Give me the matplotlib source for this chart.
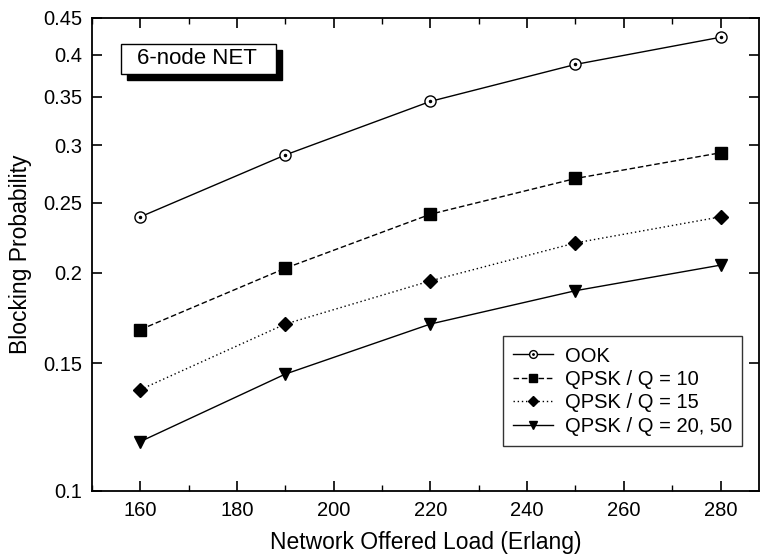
import matplotlib
matplotlib.use("Agg")
import matplotlib.pyplot as plt
from matplotlib.ticker import FixedLocator, NullLocator, MultipleLocator
from matplotlib.legend_handler import HandlerTuple
from matplotlib.patches import Rectangle

plt.rcParams['font.family'] = ['Liberation Sans', 'DejaVu Sans']

# data
load = [160, 190, 220, 250, 280]
ook = [0.239, 0.291, 0.345, 0.388, 0.423]
qpsk10 = [0.167, 0.203, 0.241, 0.270, 0.293]
qpsk15 = [0.138, 0.170, 0.195, 0.220, 0.239]
qpsk20 = [0.117, 0.145, 0.170, 0.189, 0.205]

yticks = [0.1, 0.15, 0.2, 0.25, 0.3, 0.35, 0.4, 0.45]
ytick_labels = ["0.1", "0.15", "0.2", "0.25", "0.3", "0.35", "0.4", "0.45"]

fig = plt.figure(figsize=(7.6, 5.56), dpi=100)
ax = fig.add_axes([0.121, 0.117, 0.878, 0.851])

l1, = ax.plot(load, ook, color='black', lw=1, ls='-', marker='o',
              mfc='white', mec='black', ms=8, mew=1)
l1d, = ax.plot(load, ook, color='black', lw=0, marker='o', ms=1.5)
l2, = ax.plot(load, qpsk10, color='black', lw=1, ls=(0, (4, 2)), marker='s', ms=8)
l3, = ax.plot(load, qpsk15, color='black', lw=1, ls=(0, (1, 2)), marker='D', ms=7.5)
l4, = ax.plot(load, qpsk20, color='black', lw=1, ls='-', marker='v', ms=9)

ax.set_yscale('log')
ax.set_ylim(0.1, 0.45)
ax.set_xlim(150, 288)
ax.yaxis.set_major_locator(FixedLocator(yticks))
ax.set_yticklabels(ytick_labels)
ax.yaxis.set_minor_locator(NullLocator())
ax.xaxis.set_major_locator(MultipleLocator(20))
ax.xaxis.set_minor_locator(MultipleLocator(10))
ax.tick_params(which='both', direction='in', top=True, right=True, labelsize=14.5)
ax.tick_params(which='major', length=7, width=1.2, pad=7)
ax.tick_params(which='minor', length=4, width=1)
for s in ax.spines.values():
    s.set_linewidth(1.3)

ax.set_xlabel("Network Offered Load (Erlang)", fontsize=16.5, labelpad=8)
ax.set_ylabel("Blocking Probability", fontsize=16.5, labelpad=8)

leg = ax.legend([(l1, l1d), l2, l3, l4],
                ["OOK", "QPSK / Q = 10", "QPSK / Q = 15", "QPSK / Q = 20, 50"],
                handler_map={tuple: HandlerTuple(ndivide=1)},
                loc='lower right', bbox_to_anchor=(0.9895, 0.074),
                fontsize=14.5, frameon=True, fancybox=False, edgecolor='black',
                handlelength=2.0, handletextpad=0.6, labelspacing=0.22,
                borderpad=0.5, markerscale=0.7)
leg.get_frame().set_linewidth(1)

# shadowed label box
W, H = 760.0, 556.0
fig.patches.append(Rectangle((127 / W, 1 - 80 / H), 155 / W, 30 / H,
                             transform=fig.transFigure, facecolor='black',
                             edgecolor='black', zorder=5))
fig.patches.append(Rectangle((121 / W, 1 - 74 / H), 155 / W, 30 / H,
                             transform=fig.transFigure, facecolor='white',
                             edgecolor='black', lw=1, zorder=6))
fig.text(197 / W, 1 - 59 / H, "6-node NET", fontsize=16, ha='center',
         va='center', zorder=7)

fig.savefig("out.png", dpi=100)
